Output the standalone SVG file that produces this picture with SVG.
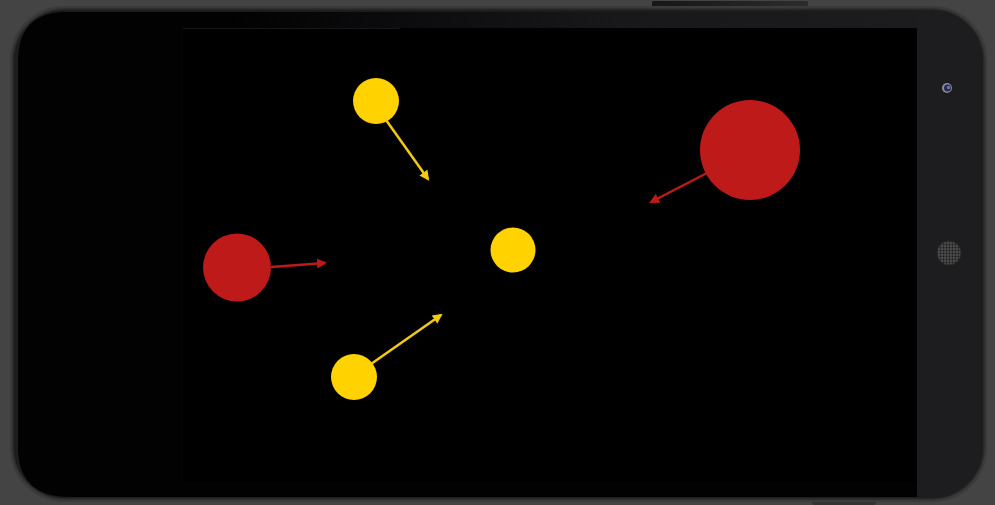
<svg xmlns="http://www.w3.org/2000/svg" width="995" height="505" viewBox="0 0 995 505">
  <defs>
    <style>
      .yel { fill: #FFD200; }
      .red { fill: #BE1A1A; }
      .ay { stroke: #F2CA10; stroke-width: 2.5; fill: none; }
      .ar { stroke: #BE1A1A; stroke-width: 2.5; fill: none; }
    </style>
    <marker id="hy" viewBox="0 0 10 10" refX="8" refY="5" markerWidth="4" markerHeight="4" orient="auto" markerUnits="strokeWidth">
      <path d="M0,0 L10,5 L0,10 z" fill="#F2CA10"/>
    </marker>
    <marker id="hr" viewBox="0 0 10 10" refX="8" refY="5" markerWidth="4" markerHeight="4" orient="auto" markerUnits="strokeWidth">
      <path d="M0,0 L10,5 L0,10 z" fill="#BE1A1A"/>
    </marker>
    <linearGradient id="topstrip" x1="0" y1="0" x2="1" y2="0">
      <stop offset="0" stop-color="#020203"/>
      <stop offset="0.2" stop-color="#020203"/>
      <stop offset="0.65" stop-color="#18181b"/>
      <stop offset="1" stop-color="#1c1c1f"/>
    </linearGradient>
    <linearGradient id="btn" x1="0" y1="0" x2="1" y2="0">
      <stop offset="0" stop-color="#161616"/>
      <stop offset="1" stop-color="#2c2c2c"/>
    </linearGradient>
    <pattern id="grill" x="0" y="0" width="3" height="3" patternUnits="userSpaceOnUse">
      <rect width="3" height="3" fill="#4a4a4a"/>
      <circle cx="1.5" cy="1.5" r="0.9" fill="#1a1a1a"/>
    </pattern>
  </defs>

  <!-- background -->
  <rect x="0" y="0" width="995" height="505" fill="#444444"/>
  <!-- buttons -->
  <rect x="652" y="1" width="156" height="8" rx="1.5" fill="url(#btn)"/>
  <rect x="812" y="495" width="64" height="10" rx="2" fill="#333333"/>

  <!-- phone body -->
  <g id="phone">
    <rect x="10" y="6" width="977" height="496" rx="54" fill="#3a3a3a"/>
    <rect x="13" y="9" width="971" height="490" rx="52" fill="#1d1d1f" stroke="#2c2c2c" stroke-width="1.5"/>
    <path d="M66,12 L917,12 L917,497 L70,497 Q18,497 18,447 L18,62 Q18,12 66,12 Z" fill="#020202"/>
    <rect x="60" y="12" width="857" height="16" fill="url(#topstrip)"/>
    <rect x="183" y="28" width="734" height="454" fill="#000000"/>
    <line x1="183" y1="28.5" x2="400" y2="28.5" stroke="#12181a" stroke-width="1"/>
    <circle cx="947" cy="88" r="5" fill="#8a8a9a"/>
    <circle cx="947.5" cy="88" r="3.5" fill="#2a2a50"/>
    <circle cx="948.5" cy="87.5" r="1.8" fill="#6a6ac0"/>
    <circle cx="949" cy="253" r="12" fill="url(#grill)"/>
    <circle cx="949" cy="253" r="12" fill="none" stroke="#2a2a2a" stroke-width="1"/>
  </g>

  <!-- balls -->
  <g id="ball-yellow-top"><circle class="yel" cx="376" cy="101" r="23"/></g>
  <g id="ball-yellow-center"><circle class="yel" cx="513" cy="250" r="22.5"/></g>
  <g id="ball-yellow-bottom"><circle class="yel" cx="354" cy="377" r="23"/></g>
  <g id="ball-red-left"><circle class="red" cx="237" cy="267.5" r="34"/></g>
  <g id="ball-red-right"><circle class="red" cx="750" cy="150" r="50"/></g>

  <!-- velocity arrows -->
  <g id="connectors">
    <line class="ay" x1="386" y1="120" x2="428" y2="179" marker-end="url(#hy)"/>
    <line class="ay" x1="371" y1="364" x2="441" y2="315" marker-end="url(#hy)"/>
    <line class="ar" x1="271" y1="267" x2="325" y2="263" marker-end="url(#hr)"/>
    <line class="ar" x1="707" y1="173" x2="651" y2="202" marker-end="url(#hr)"/>
  </g>
</svg>
